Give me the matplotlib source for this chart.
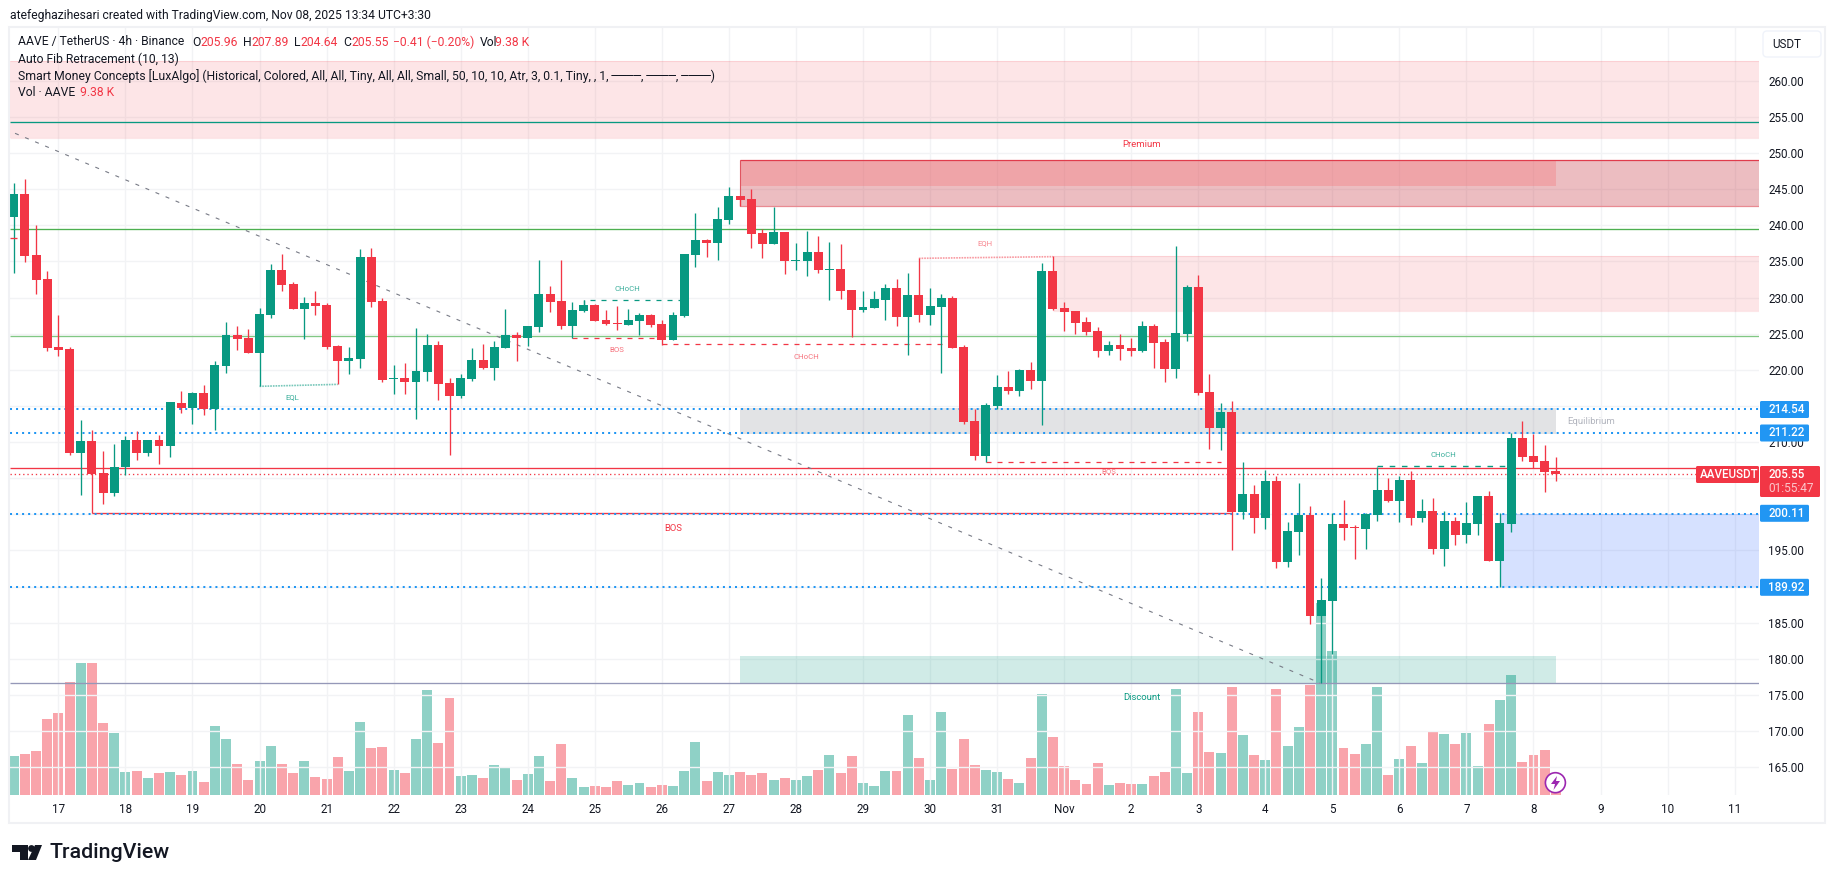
import numpy as np
import matplotlib
matplotlib.use("Agg")
import matplotlib.pyplot as plt
from matplotlib.patches import Rectangle, Circle, Polygon, FancyBboxPatch

plt.rcParams["font.family"] = ["Roboto", "DejaVu Sans"]

# =====================================================
# DATA
# =====================================================

# one candle = 4h, candle 0 sits on the "17" tick
first_candle = -4

opens = [
    241.19, 244.32, 235.88, 232.56, 223.15, 222.87, 208.48, 210.14, 205.71, 202.94,
    206.54, 210.28, 208.48, 210.28, 209.45, 215.40, 214.71, 216.78, 214.57, 220.52,
    224.81, 224.39, 222.32, 227.58, 233.81, 231.87, 228.41, 229.24, 228.96, 223.29,
    221.21, 221.49, 235.60, 229.52, 218.72, 218.86, 218.31, 219.69, 223.43, 218.17,
    216.37, 218.72, 221.35, 220.25, 223.01, 224.81, 224.39, 225.92, 230.48, 229.52,
    226.06, 228.13, 228.96, 226.89, 226.47, 226.20, 226.75, 227.58, 226.33, 224.12,
    227.44, 235.88, 237.96, 237.54, 240.72, 244.05, 243.63, 238.93, 237.40, 239.06,
    235.05, 235.05, 236.30, 233.81, 233.94, 231.04, 228.27, 228.55, 229.65, 231.31,
    227.30, 230.35, 227.58, 228.69, 229.93, 223.15, 212.91, 208.07, 214.99, 217.62,
    217.06, 219.97, 218.45, 233.67, 228.55, 228.13, 226.61, 225.36, 222.60, 223.43,
    223.01, 222.60, 226.06, 223.84, 220.11, 224.95, 231.45, 216.92, 211.94, 214.16,
    200.32, 202.81, 199.49, 204.61, 193.40, 197.55, 199.91, 185.93, 188.00, 198.66,
    198.25, 197.97, 199.91, 203.37, 201.84, 204.75, 199.49, 200.46, 195.20, 199.08,
    197.14, 198.66, 202.54, 193.54, 198.66, 210.56, 208.07, 207.38, 205.96,
]
highs = [
    245.85, 246.40, 240.03, 233.67, 227.58, 223.15, 213.05, 211.67, 208.76, 209.73,
    210.83, 211.53, 210.28, 210.97, 215.54, 217.06, 216.92, 217.89, 221.21, 226.61,
    226.06, 225.64, 228.55, 234.64, 236.02, 232.15, 230.07, 230.90, 229.24, 223.43,
    223.15, 236.71, 236.85, 229.93, 220.66, 220.94, 225.78, 224.95, 224.02, 218.86,
    219.41, 223.01, 223.56, 223.98, 228.41, 225.22, 226.06, 235.19, 231.59, 235.19,
    229.38, 229.65, 229.10, 228.27, 228.82, 228.41, 227.86, 227.72, 226.89, 227.99,
    236.02, 241.69, 238.10, 242.52, 245.29, 244.05, 245.02, 239.48, 242.52, 239.06,
    237.54, 239.20, 238.51, 237.68, 237.40, 231.04, 230.90, 230.90, 231.87, 232.56,
    233.39, 235.42, 231.31, 230.48, 230.21, 223.43, 214.57, 215.40, 219.27, 219.83,
    220.11, 221.07, 234.77, 235.70, 229.38, 228.13, 227.30, 225.92, 223.98, 224.95,
    224.39, 226.75, 226.33, 224.26, 237.13, 231.73, 233.11, 219.41, 215.40, 215.68,
    207.24, 204.06, 206.13, 205.30, 198.94, 204.34, 201.15, 191.19, 200.18, 201.98,
    198.52, 200.18, 206.55, 205.03, 205.30, 205.98, 202.12, 202.26, 200.46, 199.63,
    201.71, 202.54, 203.23, 200.18, 211.24, 212.92, 211.12, 209.60, 207.89,
]
lows = [
    233.39, 234.91, 230.48, 222.60, 221.90, 208.20, 202.67, 200.13, 201.42, 202.53,
    205.44, 207.51, 208.07, 206.96, 207.93, 214.02, 212.49, 213.74, 211.67, 219.55,
    222.73, 222.32, 217.75, 227.16, 230.90, 228.41, 224.26, 227.58, 222.87, 218.03,
    219.41, 220.25, 228.69, 218.31, 216.65, 216.65, 213.19, 218.45, 215.82, 208.20,
    216.09, 218.45, 220.11, 218.58, 223.01, 221.21, 223.29, 225.22, 227.99, 225.64,
    224.35, 227.99, 226.75, 226.20, 225.50, 226.20, 224.81, 225.92, 223.43, 224.12,
    227.30, 234.22, 235.60, 235.19, 240.17, 242.66, 236.85, 235.47, 237.40, 233.25,
    233.81, 232.98, 233.39, 229.65, 229.79, 224.53, 227.99, 228.55, 226.89, 226.06,
    222.04, 226.61, 226.20, 219.55, 223.01, 212.49, 207.51, 207.28, 214.57, 216.65,
    216.37, 217.34, 212.36, 228.27, 225.36, 224.95, 224.81, 221.77, 222.04, 221.35,
    221.90, 222.46, 220.25, 218.31, 218.86, 223.98, 216.51, 209.03, 208.90, 195.06,
    199.35, 197.42, 197.97, 192.57, 192.71, 194.37, 184.82, 176.66, 180.67, 196.45,
    193.82, 195.20, 199.08, 201.71, 198.94, 198.52, 198.94, 194.51, 192.85, 195.76,
    196.03, 197.14, 193.54, 189.94, 197.55, 207.38, 206.41, 203.09, 204.64,
]
closes = [
    244.32, 235.74, 232.42, 223.01, 222.73, 208.48, 210.14, 205.57, 202.94, 206.54,
    210.28, 208.48, 210.28, 209.45, 215.54, 214.71, 216.78, 214.57, 220.66, 224.81,
    224.26, 222.32, 227.72, 233.81, 231.73, 228.41, 229.24, 228.82, 223.15, 221.21,
    221.63, 235.60, 229.38, 218.58, 218.86, 218.31, 219.83, 223.43, 218.03, 216.37,
    218.86, 221.35, 220.25, 223.15, 224.81, 224.39, 226.06, 230.48, 229.38, 226.06,
    228.27, 228.96, 226.75, 226.33, 226.33, 226.89, 227.58, 226.20, 224.12, 227.58,
    236.02, 237.96, 237.54, 240.86, 244.05, 243.49, 238.79, 237.40, 239.06, 235.05,
    235.19, 236.30, 233.81, 233.94, 230.90, 228.27, 228.69, 229.79, 231.31, 227.30,
    230.35, 227.58, 228.82, 229.93, 223.01, 212.77, 208.07, 215.12, 217.62, 217.06,
    219.97, 218.45, 233.67, 228.41, 227.99, 226.47, 225.22, 222.60, 223.43, 222.87,
    222.60, 226.06, 223.70, 220.11, 225.09, 231.45, 216.78, 211.94, 214.16, 200.32,
    202.81, 199.49, 204.61, 193.40, 197.69, 199.91, 185.93, 188.14, 198.66, 198.11,
    198.15, 200.05, 203.37, 201.84, 204.75, 199.49, 200.46, 195.20, 199.08, 197.14,
    198.80, 202.54, 193.54, 198.80, 210.56, 207.93, 207.24, 205.86, 205.55,
]
volumes = [
    23.6, 24.4, 25.6, 38.4, 40.8, 53.2, 60.9, 60.9, 36.8, 32.8,
    17.2, 17.6, 14.8, 16.8, 17.2, 16.0, 17.6, 13.2, 35.6, 30.4,
    20.4, 14.0, 21.6, 27.6, 20.4, 16.8, 21.6, 15.2, 14.4, 23.2,
    17.6, 37.2, 26.8, 27.2, 18.0, 16.8, 30.4, 50.0, 28.8, 46.8,
    15.6, 16.0, 14.8, 20.0, 18.8, 14.0, 16.4, 23.6, 13.6, 28.4,
    14.8, 11.2, 11.6, 11.2, 13.6, 12.0, 12.8, 11.2, 12.0, 11.6,
    17.6, 29.2, 13.6, 17.2, 16.0, 17.2, 16.0, 16.8, 14.0, 14.8,
    14.0, 15.6, 18.0, 24.0, 16.8, 23.6, 12.8, 11.6, 17.6, 17.6,
    40.0, 22.8, 14.0, 41.2, 18.4, 30.4, 20.0, 18.0, 17.2, 14.4,
    12.8, 22.8, 48.4, 31.2, 19.6, 14.0, 12.4, 20.8, 12.0, 12.8,
    12.4, 12.4, 15.6, 17.2, 50.4, 16.8, 41.2, 25.2, 24.8, 51.2,
    32.0, 24.0, 22.0, 50.4, 27.6, 35.2, 52.0, 84.7, 65.6, 26.8,
    24.4, 28.4, 51.2, 16.0, 22.4, 27.6, 20.8, 33.6, 32.4, 28.4,
    32.8, 19.6, 36.4, 46.0, 56.0, 21.2, 24.0, 26.0, 9.38,
]

day_labels = ["17", "18", "19", "20", "21", "22", "23", "24", "25", "26", "27", "28", "29",
              "30", "31", "Nov", "2", "3", "4", "5", "6", "7", "8", "9", "10", "11"]
price_ticks = list(range(165, 265, 5))
# these sit behind the price tags
hidden_ticks = [190, 200, 205, 215]

# levels
premium_zone = (252.03, 262.73)
ob_zone = (242.62, 248.98)
ob_inner_bottom = 245.48
eqh_zone = (228.2, 235.7)
equilibrium_zone = (211.16, 214.7)
discount_zone = (176.66, 180.39)
demand_zone = (189.92, 200.11)

fib_levels = [(254.24, "#089981"), (239.44, "#4caf50"), (224.63, "#81c784"),
              (206.36, "#f23645"), (176.62, "#9598b8")]
blue_levels = [214.54, 211.22, 200.11, 189.92]
last_price = 205.55

diagonal_k = [-3.88, 112.9]
diagonal_p = [252.72, 176.66]

# =====================================================
# LAYOUT
# =====================================================

W, H = 1835, 883
PX_LEFT, PX_RIGHT, PX_TOP, PX_BOTTOM = 10, 1759, 27, 795

fig = plt.figure(figsize=(W / 100, H / 100), dpi=100, facecolor="white")
ax = fig.add_axes([PX_LEFT / W, 1 - PX_BOTTOM / H, (PX_RIGHT - PX_LEFT) / W, (PX_BOTTOM - PX_TOP) / H])

ax_vol = ax.twinx()
ax.set_zorder(ax_vol.get_zorder() + 1)
ax.patch.set_visible(False)
ax_vol.set_facecolor("white")

k_left, k_right = -4.331, 152.18
ax.set_xlim(k_left, k_right)
ax.set_ylim(161.16, 267.43)
ax_vol.set_ylim(8, 315.2)
ax_vol.set_yticks([])

for a in (ax, ax_vol):
    for s in a.spines.values():
        s.set_visible(False)

TEXT = "#131722"
GREEN = "#089981"
RED = "#f23645"
BLUE = "#2196f3"
DASH = (0, (4, 4.8))

# =====================================================
# GRID AND AXES
# =====================================================

ax.set_xticks([6 * i for i in range(len(day_labels))])
ax.set_xticklabels(day_labels)
ax.set_yticks(price_ticks)
ax.set_yticklabels(["" if p in hidden_ticks else f"{p:.2f}" for p in price_ticks])
ax.yaxis.tick_right()
ax.tick_params(axis="x", length=0, pad=6, labelsize=8.4, labelcolor=TEXT)
ax.tick_params(axis="y", length=0, pad=6.5, labelsize=8.4, labelcolor=TEXT)
ax.grid(True, color="#f2f3f5", linewidth=1.0)
ax.set_axisbelow(True)

# =====================================================
# VOLUME
# =====================================================

ks = np.arange(first_candle, first_candle + len(closes))
opens = np.array(opens)
highs = np.array(highs)
lows = np.array(lows)
closes = np.array(closes)
volumes = np.array(volumes)
up = closes >= opens

ax_vol.bar(ks, volumes - 8, bottom=8, width=0.89,
           color=[GREEN if u else RED for u in up], alpha=0.45, linewidth=0)

# =====================================================
# ZONES
# =====================================================

def zone(k0, k1, bounds, color, alpha, edge_alpha=0.0):
    ax.add_patch(Rectangle((k0, bounds[0]), k1 - k0, bounds[1] - bounds[0],
                           facecolor=color, alpha=alpha, linewidth=0, zorder=1))
    if edge_alpha:
        ax.hlines(bounds, k0, k1, color=color, alpha=edge_alpha, linewidth=0.8, zorder=1.1)

zone(k_left, k_right, premium_zone, RED, 0.125, 0.12)
zone(61, k_right, ob_zone, "#c9424e", 0.35)
zone(61, 134, (ob_inner_bottom, ob_zone[1]), "#f96d71", 0.30)
ax.hlines(ob_zone[1], 61, k_right, color="#e03c4c", linewidth=0.9, zorder=1.2)
ax.hlines(ob_zone[0], 61, k_right, color="#e98b92", linewidth=0.9, zorder=1.2)
ax.vlines(61, ob_zone[0], ob_zone[1], color="#e05560", linewidth=0.8, zorder=1.2)
zone(89, k_right, eqh_zone, RED, 0.125, 0.12)
zone(61, 134, equilibrium_zone, "#787b86", 0.21)
zone(61, 134, discount_zone, GREEN, 0.19)
zone(129, k_right, demand_zone, "#2962ff", 0.19, 0.1)

# =====================================================
# LINES
# =====================================================

for level, color in fib_levels:
    ax.hlines(level, k_left, k_right, color=color, linewidth=0.95, zorder=2)

for level in blue_levels:
    ax.plot([k_left, k_right], [level, level], color=BLUE, linewidth=1.45,
            linestyle=(0, (1, 2)), zorder=2.2)

ax.plot([k_left, k_right], [last_price, last_price], color=RED, linewidth=0.95,
        linestyle=(0, (1, 2.2)), zorder=2)
ax.plot(diagonal_k, diagonal_p, color="#787b86", linewidth=0.8,
        linestyle=(0, (3.6, 6.2)), zorder=2)

# structure breaks
ax.hlines(200.13, 3, 105, color=RED, linewidth=0.95, zorder=2.1)
ax.plot([47, 47, 56], [228.96, 229.61, 229.61], color=GREEN, linewidth=0.9,
        linestyle=DASH, zorder=2.1)
ax.plot([46, 54], [224.35, 224.35], color=RED, linewidth=0.9, linestyle=DASH, zorder=2.1)
ax.plot([54, 79.8], [223.52, 223.52], color=RED, linewidth=0.9, linestyle=DASH, zorder=2.1)
ax.plot([83, 104], [207.28, 207.28], color=RED, linewidth=0.9, linestyle=DASH, zorder=2.1)
ax.plot([118, 129.5], [206.62, 206.62], color=GREEN, linewidth=1.0, linestyle=DASH, zorder=2.3)
ax.plot([18, 25], [217.71, 217.98], color=GREEN, alpha=0.55, linewidth=1.2,
        linestyle=(0, (1, 0.6)), zorder=2.1)
ax.plot([77, 89], [235.42, 235.65], color=RED, alpha=0.5, linewidth=1.2,
        linestyle=(0, (1, 0.6)), zorder=2.1)

# =====================================================
# CANDLES
# =====================================================

colors = [GREEN if u else RED for u in up]
ax.vlines(ks, lows, highs, color=colors, linewidth=0.95, zorder=3)
ax.bar(ks, np.maximum(np.abs(closes - opens), 0.12), bottom=np.minimum(opens, closes),
       width=0.8, color=colors, linewidth=0, zorder=3.1)
# small tick left of the first candle body
ax.hlines(238.19, -4.3, -3.7, color=RED, linewidth=0.95, zorder=3.2)

# =====================================================
# CHART LABELS
# =====================================================

def label(k, price, text, color, size, alpha=1.0):
    ax.text(k, price, text, color=color, fontsize=size, alpha=alpha,
            ha="center", va="center", zorder=4)

label(20.97, 216.27, "EQL", GREEN, 5.6, 0.8)
label(50.9, 231.22, "CHoCH", GREEN, 5.6, 0.8)
label(49.96, 222.78, "BOS", RED, 5.6, 0.7)
label(66.9, 221.81, "CHoCH", RED, 5.6, 0.7)
label(82.9, 237.45, "EQH", RED, 5.6, 0.6)
label(94, 205.81, "BOS", RED, 5.6, 0.65)
label(55, 198.01, "BOS", RED, 6.8)
label(123.9, 208.26, "CHoCH", GREEN, 5.6, 0.8)
label(96.9, 251.15, "Premium", RED, 6.8)
label(97, 174.63, "Discount", GREEN, 6.8)
label(137.2, 212.82, "Equilibrium", "#b2b5be", 6.8)

# =====================================================
# SCREEN OVERLAY (pixel coordinates)
# =====================================================

ui = fig.add_axes([0, 0, 1, 1], zorder=10)
ui.set_xlim(0, W)
ui.set_ylim(H, 0)
ui.axis("off")
ui.patch.set_visible(False)

ui.add_patch(Rectangle((9, 26.5), 1816, 796.5, facecolor="none", edgecolor="#f0f1f4", linewidth=1.5))

FS = 8.72

ui.text(10, 15, "atefeghazihesari created with TradingView.com, Nov 08, 2025 13:34 UTC+3:30",
        color=TEXT, fontsize=FS, va="center")

# legend rows
row1 = [(18, "AAVE / TetherUS · 4h · Binance", TEXT), (192, "O", TEXT), (200, "205.96", RED),
        (243, "H", TEXT), (251, "207.89", RED), (294, "L", TEXT), (300.5, "204.64", RED),
        (343, "C", TEXT), (351, "205.55", RED), (393, "−0.41 (−0.20%)", RED),
        (480, "Vol", TEXT), (495, "9.38 K", RED)]
for x, s, c in row1:
    ui.text(x, 42, s, color=c, fontsize=FS, va="center")
ui.text(18, 59, "Auto Fib Retracement (10, 13)", color=TEXT, fontsize=FS, va="center")
ui.text(18, 76, "Smart Money Concepts [LuxAlgo] (Historical, Colored, All, All, Tiny, All, All, "
        "Small, 50, 10, 10, Atr, 3, 0.1, Tiny, , 1, ────, ────, ────)", color=TEXT, fontsize=8.8, va="center")
ui.text(18, 93, "Vol · AAVE", color=TEXT, fontsize=FS, va="center")
ui.text(80, 93, "9.38 K", color=RED, fontsize=FS, va="center")

# price scale tags
def tag(x0, x1, y0, y1, color):
    ui.add_patch(FancyBboxPatch((x0 + 1, y0 + 1), x1 - x0 - 2, y1 - y0 - 2,
                                boxstyle="round,pad=1,rounding_size=1.5",
                                facecolor=color, edgecolor="none"))

for level, y in zip(blue_levels, [409.5, 433, 513.3, 587.3]):
    tag(1760, 1809, y - 8.5, y + 8.5, BLUE)
    ui.text(1768, y, f"{level:.2f}", color="white", fontsize=8.4, va="center", fontweight="medium")

tag(1760, 1820, 466, 497, RED)
ui.text(1768, 475, f"{last_price:.2f}", color="white", fontsize=8.4, va="center", fontweight="medium")
ui.text(1768, 488.5, "01:55:47", color="#fbc5ca", fontsize=8.6, va="center")
tag(1696, 1759, 466, 483, RED)
ui.text(1700, 474.8, "AAVEUSDT", color="white", fontsize=8.4, va="center", fontweight="medium")

ui.add_patch(FancyBboxPatch((1765, 33), 54, 22, boxstyle="round,pad=2,rounding_size=4",
                            facecolor="white", edgecolor="#f0f3fa", linewidth=1))
ui.text(1772, 44.5, "USDT", color=TEXT, fontsize=8.4, va="center")

# live bar icon
ui.add_patch(Circle((1555.4, 782.7), 10, facecolor="white", edgecolor="#9c27b0", linewidth=1.2))
ui.add_patch(Polygon([(1557, 776), (1551, 784), (1555, 784), (1553.5, 790), (1560, 781), (1556, 781)],
                     closed=True, facecolor="#9c27b0", edgecolor="none"))

# TradingView logo
ui.add_patch(Polygon([(12, 845), (27.5, 845), (27.5, 860), (20, 860), (20, 852), (12, 852)],
                     closed=True, facecolor=TEXT, edgecolor="none"))
ui.add_patch(Circle((31.5, 848.5), 3.4, facecolor=TEXT, edgecolor="none"))
ui.add_patch(Polygon([(35, 845), (42, 845), (36, 860), (28, 860)],
                     closed=True, facecolor=TEXT, edgecolor="none"))
ui.text(49, 853, "TradingView", color=TEXT, fontsize=15.4, va="center", fontweight="medium")

fig.savefig("out.png", dpi=100)
